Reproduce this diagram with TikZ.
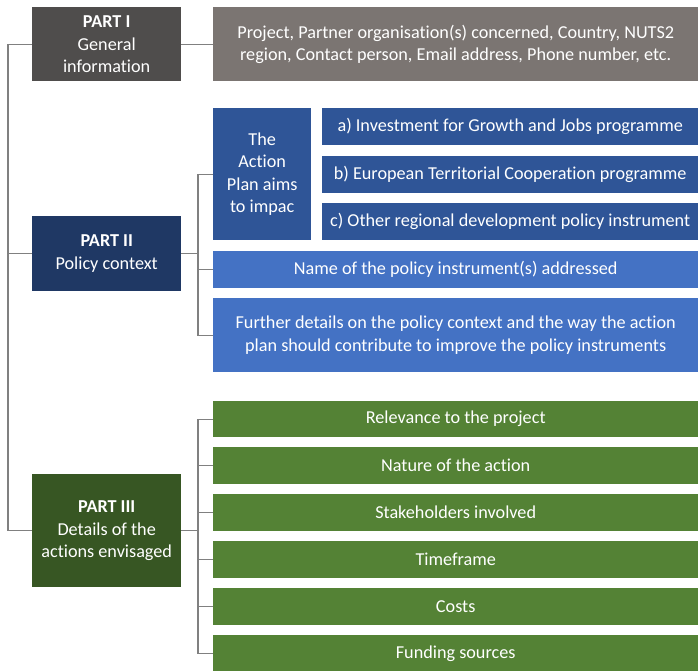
\documentclass[tikz,border=0pt]{standalone}
\usepackage{fontspec}
\setmainfont{Carlito}[Ligatures={NoCommon,NoDiscretionary}]
\definecolor{pone}{HTML}{4F4D4C}
\definecolor{ponet}{HTML}{7B7572}
\definecolor{ptwo}{HTML}{1F3864}
\definecolor{pmid}{HTML}{2F5597}
\definecolor{plight}{HTML}{4472C4}
\definecolor{pthree}{HTML}{375623}
\definecolor{pgreen}{HTML}{548235}
\definecolor{conncol}{HTML}{808080}
\begin{document}
\begin{tikzpicture}[x=1pt,y=-1pt,
  box/.style={anchor=north west,inner sep=1pt,text=white,align=center,font=\fontsize{18.2}{22.5}\selectfont},
  conn/.style={draw=conncol,line width=1.2pt}]
\useasboundingbox[fill=white] (0,0) rectangle (698,671);
% Part I
\node[box,fill=pone,minimum width=149pt,minimum height=74pt] (p1) at (32,7) {\textbf{PART I}\\General\\information};
\node[box,fill=ponet,minimum width=485pt,minimum height=74pt] (p1d) at (213,7) {Project, Partner organisation(s) concerned, Country, NUTS2\\region, Contact person, Email address, Phone number, etc.};
% Part II
\node[box,fill=ptwo,minimum width=149pt,minimum height=75pt] (p2) at (32,216) {\textbf{PART II}\\Policy context};
\node[box,fill=pmid,minimum width=98pt,minimum height=132pt] (act) at (213,108) {The\\Action\\Plan aims\\to impac};
\node[box,fill=pmid,minimum width=376pt,minimum height=37pt] (pa) at (322,108) {a) Investment for Growth and Jobs programme};
\node[box,fill=pmid,minimum width=376pt,minimum height=37pt] (pb) at (322,156) {b) European Territorial Cooperation programme};
\node[box,fill=pmid,minimum width=376pt,minimum height=37pt] (pc) at (322,203) {c) Other regional development policy instrument};
\node[box,fill=plight,minimum width=485pt,minimum height=37pt] (nam) at (213,251) {Name of the policy instrument(s) addressed};
\node[box,fill=plight,minimum width=485pt,minimum height=74pt] (fur) at (213,298) {Further details on the policy context and the way the action\\plan should contribute to improve the policy instruments};
% Part III
\node[box,fill=pthree,minimum width=149pt,minimum height=113pt] (p3) at (32,474) {\textbf{PART III}\\Details of the\\actions envisaged};
\node[box,fill=pgreen,minimum width=485pt,minimum height=36pt] (g1) at (213,401) {Relevance to the project};
\node[box,fill=pgreen,minimum width=485pt,minimum height=37pt] (g2) at (213,447) {Nature of the action};
\node[box,fill=pgreen,minimum width=485pt,minimum height=37pt] (g3) at (213,494) {Stakeholders involved};
\node[box,fill=pgreen,minimum width=485pt,minimum height=37pt] (g4) at (213,541) {Timeframe};
\node[box,fill=pgreen,minimum width=485pt,minimum height=37pt] (g5) at (213,588) {Costs};
\node[box,fill=pgreen,minimum width=485pt,minimum height=37pt] (g6) at (213,635) {Funding sources};
% connectors
\coordinate (spine) at (8,0);
\coordinate (b2) at (198,0);
\coordinate (b3) at (198,0);
\draw[conn] (p1.west) -| (spine |- p3.west) -- (p3.west);
\draw[conn] (p2.west) -- (p2.west -| spine);
\draw[conn] (p1.east) -- (p1d.west);
\draw[conn] (p2.east) -- (p2.east -| b2);
\draw[conn] (act.west) -| (b2 |- fur.west) -- (fur.west);
\draw[conn] (nam.west) -- (nam.west -| b2);
\draw[conn] (p3.east) -- (p3.east -| b3);
\draw[conn] (g1.west) -| (b3 |- g6.west) -- (g6.west);
\foreach \g in {g2,g3,g4,g5}{\draw[conn] (\g.west) -- (\g.west -| b3);}
\end{tikzpicture}
\end{document}
